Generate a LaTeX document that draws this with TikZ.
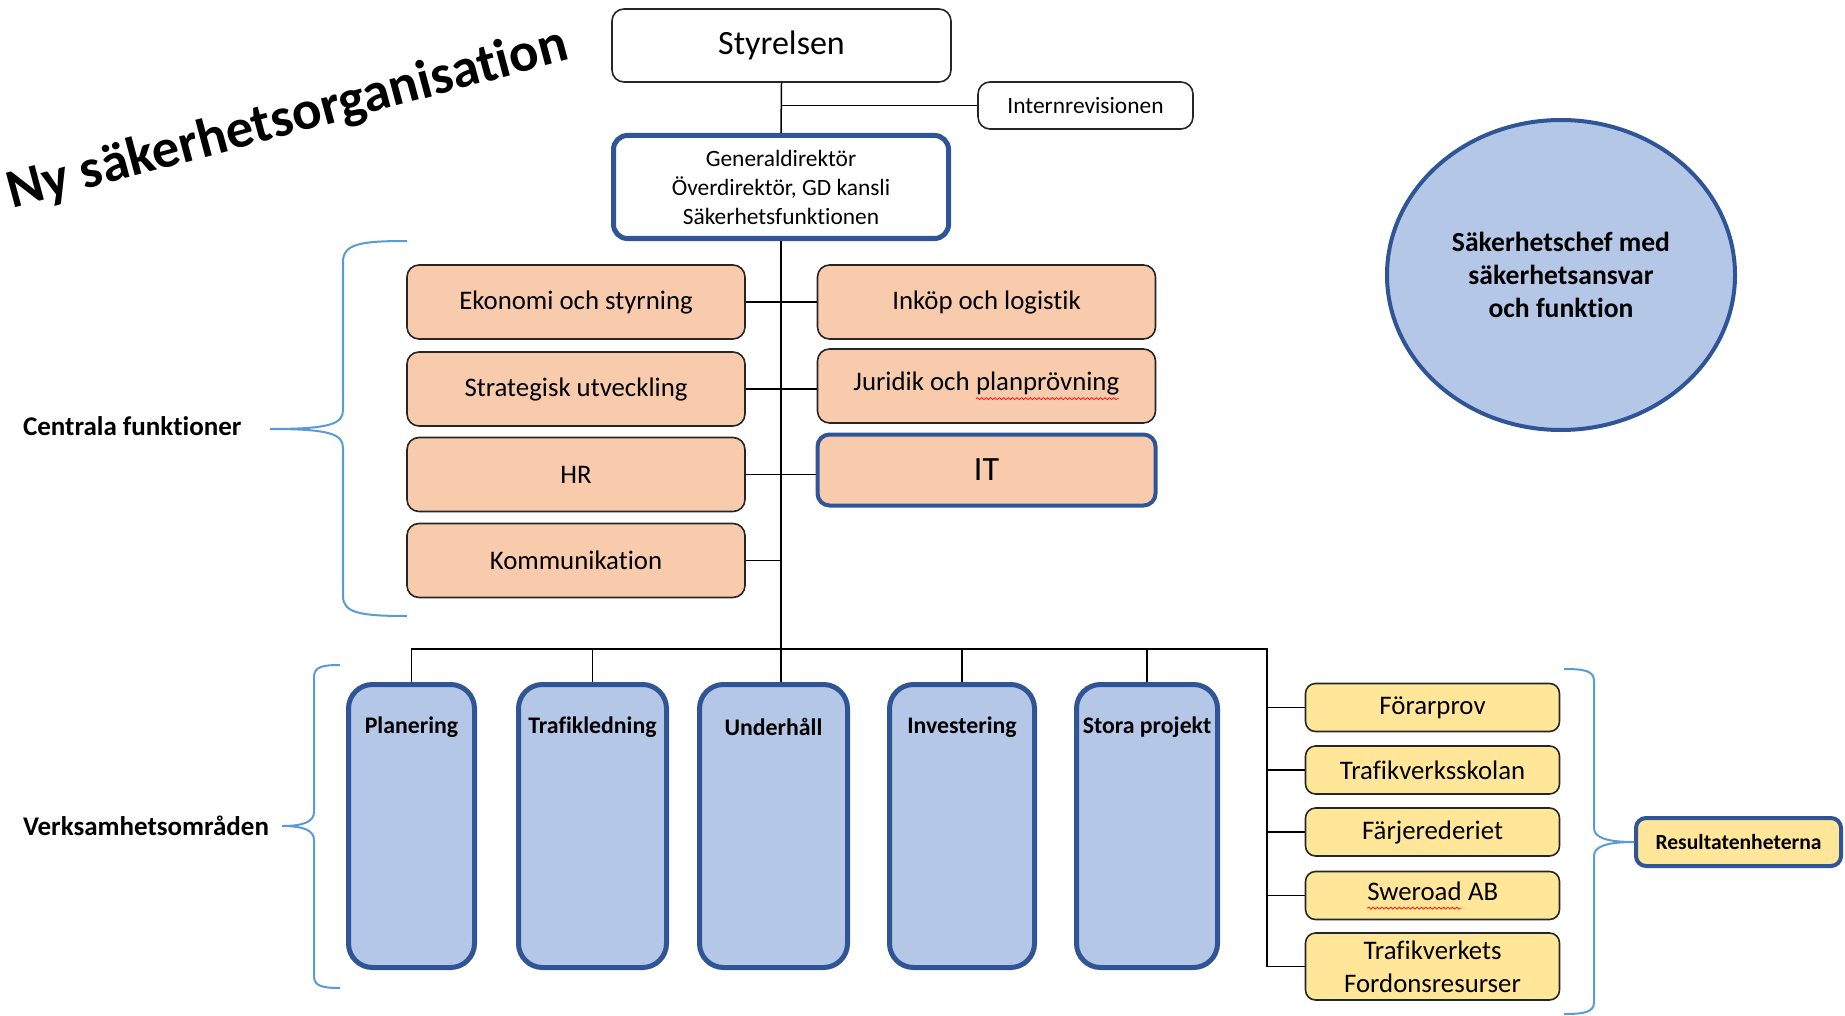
\documentclass[tikz,border=0pt]{standalone}
\usepackage{fontspec}
\setmainfont{Carlito}[Ligatures=NoCommon]
\usetikzlibrary{shapes.geometric,decorations.pathmorphing}

\definecolor{orangefill}{HTML}{F8CBAD}
\definecolor{bluefill}{HTML}{B4C7E7}
\definecolor{blueline}{HTML}{2F5597}
\definecolor{yellowfill}{HTML}{FFE699}
\definecolor{bracecol}{HTML}{5B9BD5}
\definecolor{boxline}{HTML}{262626}

% red spelling squiggle under a word
\newcommand\redwave[1]{\tikz[baseline=(w.base), x=1pt, y=1pt, sharp corners]{\node[inner sep=0pt, outer sep=0pt, draw=none, fill=none, minimum size=0pt] (w) {#1};
  \draw[red, line width=0.35pt, decorate, decoration={snake, amplitude=0.5pt, segment length=2.2pt}] ([yshift=-4pt]w.base west) -- ([yshift=-4pt]w.base east);}}

\begin{document}
\begin{tikzpicture}[x=0.5pt, y=-0.5pt,
    box/.style={draw=boxline, line width=0.8pt, rounded corners=6pt, align=center, inner sep=2pt},
    orangebox/.style={box, fill=orangefill, minimum width=169pt, minimum height=37pt, font=\fontsize{13.4}{16}\selectfont},
    yellowbox/.style={box, fill=yellowfill, minimum width=127pt, minimum height=24pt, rounded corners=5pt, font=\fontsize{13.4}{16.5}\selectfont},
    bluecol/.style={draw=blueline, line width=2.5pt, fill=bluefill, rounded corners=12pt, minimum height=141.5pt, inner sep=0pt},
    collabel/.style={font=\bfseries\fontsize{11.9}{14}\selectfont, anchor=center, yshift=-22.5pt},
    sidelabel/.style={anchor=west, font=\bfseries\fontsize{13.5}{16}\selectfont},
    brace/.style={draw=bracecol, line width=1pt},
    conn/.style={draw=black, line width=0.75pt}
  ]
  \useasboundingbox (0,0) rectangle (1845,1016);

  % title
  \node[rotate=15, font=\bfseries\fontsize{27.5}{30}\selectfont] (title) at (288,120) {Ny säkerhetsorganisation};

  % top of the tree
  \node[box, minimum width=169.5pt, minimum height=36.5pt, font=\fontsize{17}{20}\selectfont] (styr) at (781.5,45.5) {Styrelsen};
  \node[box, minimum width=107.5pt, minimum height=23.5pt, font=\fontsize{11.7}{14}\selectfont] (intrev) at (1085.5,105.5) {Internrevisionen};
  \node[box, draw=blueline, line width=2.5pt, rounded corners=7pt, minimum width=167.5pt, minimum height=51.5pt, font=\fontsize{11.7}{14.5}\selectfont] (gd) at (781,187) {Generaldirektör\\Överdirektör, GD kansli\\Säkerhetsfunktionen};

  % centrala funktioner
  \node[orangebox] (eko) at (576,302) {Ekonomi och styrning};
  \node[orangebox] (str) at (576,389) {Strategisk utveckling};
  \node[orangebox] (hr) at (576,474.5) {HR};
  \node[orangebox] (kom) at (576,560.5) {Kommunikation};
  \node[orangebox] (ink) at (986.5,302) {Inköp och logistik};
  \node[orangebox] (jur) at (986.5,386) {Juridik och \redwave{planprövning}};
  \node[orangebox, draw=blueline, line width=2pt, minimum height=35.5pt, font=\fontsize{17}{20}\selectfont] (it) at (986.5,470) {IT};

  % säkerhetschef
  \node[ellipse, draw=blueline, line width=2pt, fill=bluefill, minimum width=174pt, minimum height=155pt, align=center, font=\bfseries\fontsize{13.8}{16.5}\selectfont] (sak) at (1561,275) {Säkerhetschef med\\säkerhetsansvar\\och funktion};

  % verksamhetsområden
  \node[bluecol, minimum width=63pt, label={[collabel]north:Planering}] (pla) at (411.5,826) {};
  \node[bluecol, minimum width=74pt, label={[collabel]north:Trafikledning}] (tra) at (592.5,826) {};
  \node[bluecol, minimum width=74pt, label={[collabel]north:Underhåll}] (und) at (773.5,826) {};
  \node[bluecol, minimum width=72.5pt, label={[collabel]north:Investering}] (inv) at (962,826) {};
  \node[bluecol, minimum width=70.5pt, label={[collabel]north:Stora projekt}] (sto) at (1147,826) {};

  % resultatenheter
  \node[yellowbox] (far) at (1432.5,707.5) {Förarprov};
  \node[yellowbox] (tvs) at (1432.5,770) {Trafikverksskolan};
  \node[yellowbox] (fjr) at (1432.5,832) {Färjerederiet};
  \node[yellowbox] (swe) at (1432.5,895.5) {\redwave{Sweroad} AB};
  \node[yellowbox, minimum height=33.5pt] (ffr) at (1432.5,966.5) {Trafikverkets\\Fordonsresurser};
  \node[box, fill=yellowfill, draw=blueline, line width=2pt, rounded corners=5pt, minimum width=102.5pt, minimum height=24pt, font=\bfseries\fontsize{10.8}{13}\selectfont] (res) at (1738.5,842) {Resultatenheterna};

  % side labels
  \node[sidelabel] (cen) at (16,426) {Centrala funktioner};
  \node[sidelabel] (verk) at (16,826) {Verksamhetsområden};

  % connectors
  \draw[conn] (styr.south) -- (gd.north);
  \draw[conn] (intrev.west) -- (intrev.west -| styr.south);
  \draw[conn] (gd.south) -- (gd.south |- und.north);
  \draw[conn] (eko.east) -- (eko.east -| ink.west);
  \draw[conn] (str.east) -- (str.east -| jur.west);
  \draw[conn] (hr.east) -- (hr.east -| it.west);
  \draw[conn] (kom.east) -- (kom.east -| gd.south);

  \coordinate (bus) at (1267,649);
  \draw[conn] (pla.north) |- (bus) -- (bus |- ffr.west) -- (ffr.west);
  \foreach \c in {tra,inv,sto}
    \draw[conn] (\c.north) -- (\c.north |- bus);
  \foreach \c in {far,tvs,fjr,swe}
    \draw[conn] (\c.west) -- (\c.west -| bus);

  % braces
  \draw[brace] (407,241) .. controls (360,241) and (343,244) .. (343,262) -- (343,410) .. controls (343,424) and (330,429) .. (270,429);
  \draw[brace] (270,429) .. controls (330,429) and (343,434) .. (343,448) -- (343,596) .. controls (343,613) and (360,616) .. (407,616);
  \draw[brace] (340,665) .. controls (322,665) and (314,667) .. (314,677) -- (314,812) .. controls (314,821) and (305,826) .. (282,826);
  \draw[brace] (282,826) .. controls (305,826) and (314,831) .. (314,840) -- (314,976) .. controls (314,986) and (322,988) .. (340,988);
  \draw[brace] (1564,669) .. controls (1585,669) and (1594,671) .. (1594,681) -- (1594,828) .. controls (1594,837) and (1605,842) .. (1634,842);
  \draw[brace] (1634,842) .. controls (1605,842) and (1594,847) .. (1594,856) -- (1594,1002) .. controls (1594,1012) and (1585,1014) .. (1564,1014);
\end{tikzpicture}
\end{document}
